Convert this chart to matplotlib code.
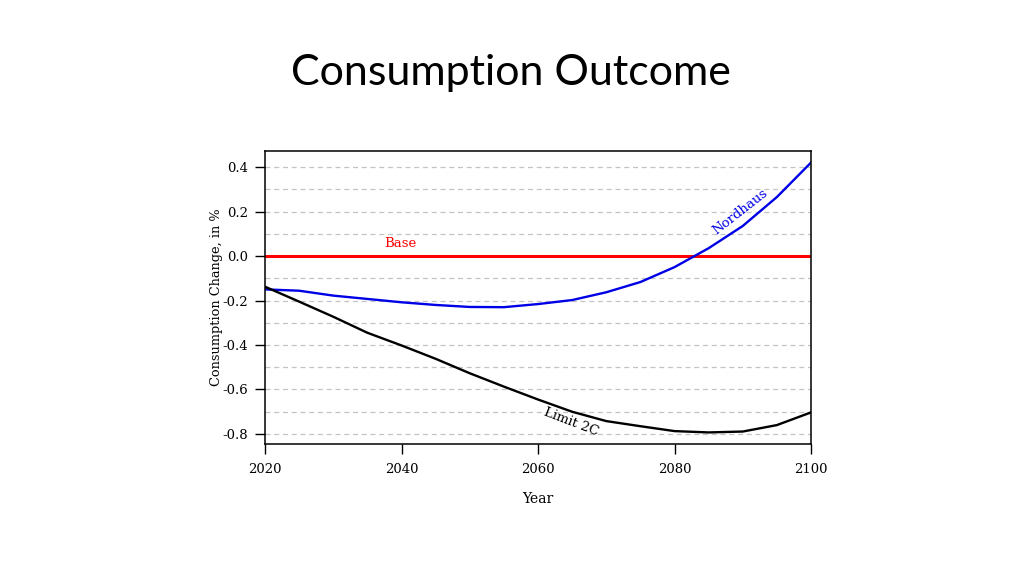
import numpy as np
import matplotlib.pyplot as plt
from matplotlib.ticker import MultipleLocator

plt.rcParams['axes.unicode_minus'] = False

# data
years = [2020, 2025, 2030, 2035, 2040, 2045, 2050, 2055, 2060, 2065, 2070, 2075, 2080, 2085, 2090, 2095, 2100]
nordhaus = [-0.150, -0.156, -0.178, -0.193, -0.208, -0.220, -0.229, -0.230, -0.216, -0.198, -0.163, -0.117, -0.050, 0.035, 0.135, 0.265, 0.420]
limit2c = [-0.138, -0.205, -0.273, -0.345, -0.402, -0.462, -0.527, -0.587, -0.645, -0.700, -0.742, -0.765, -0.787, -0.793, -0.789, -0.760, -0.703]
base = [0.0] * len(years)

serif = ['DejaVu Serif']

fig = plt.figure(figsize=(10.24, 5.76), dpi=100)
ax = fig.add_axes([265 / 1024, 1 - 444 / 576, (811 - 265) / 1024, (444 - 151) / 576])

# grid at every 0.1
ax.yaxis.set_major_locator(MultipleLocator(0.2))
ax.yaxis.set_minor_locator(MultipleLocator(0.1))
ax.grid(which='both', axis='y', color='#c4c4c4', linestyle=(0, (4, 3)), linewidth=0.9)
ax.set_axisbelow(True)

ax.plot(years, base, color='#ff0000', linewidth=2.2)
ax.plot(years, nordhaus, color='#0000e6', linewidth=1.7)
ax.plot(years, limit2c, color='black', linewidth=1.7)

ax.set_xlim(2020, 2100)
ax.set_ylim(-0.845, 0.472)
ax.set_xticks([2020, 2040, 2060, 2080, 2100])

ax.tick_params(which='major', direction='out', length=7, width=1, labelsize=9.5, pad=5)
ax.tick_params(which='minor', length=0)
ax.tick_params(axis='x', pad=7)
for lab in ax.get_xticklabels() + ax.get_yticklabels():
    lab.set_family(serif)
for s in ax.spines.values():
    s.set_linewidth(1.1)

ax.set_xlabel('Year', family=serif, fontsize=10, labelpad=11)
ax.set_ylabel('Consumption Change, in %', family=serif, fontsize=9.3, labelpad=0)

# inline labels
ax.text(2039.9, 0.058, 'Base', color='#ff0000', family=serif, fontsize=9.5, ha='center', va='center')
ax.text(2089.6, 0.20, 'Nordhaus', color='#0000e6', family=serif, fontsize=9.5,
        ha='center', va='center', rotation=38)
ax.text(2064.8, -0.745, 'Limit 2C', color='black', family=serif, fontsize=9.5,
        ha='center', va='center', rotation=-21)

fig.text(511 / 1024, 1 - 73 / 576, 'Consumption Outcome', family=['Lato'], fontsize=31,
         ha='center', va='center')

fig.savefig('out.png', dpi=100)
